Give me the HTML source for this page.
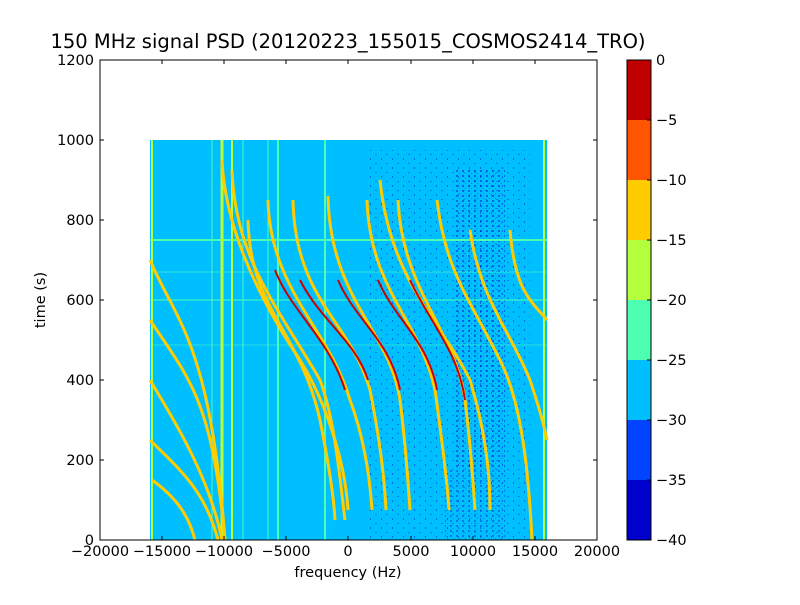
<!DOCTYPE html>
<html><head><style>
body{margin:0;background:#fff;}
svg text{font-family:"DejaVu Sans","Liberation Sans",sans-serif;}
</style></head><body>
<svg width="800" height="600" xmlns="http://www.w3.org/2000/svg">
<defs>
<pattern id="spk" width="11" height="9" patternUnits="userSpaceOnUse">
<rect x="1" y="1" width="2" height="1" fill="#0033ee"/>
<rect x="7" y="5" width="1" height="2" fill="#0000cc"/>
</pattern>
<pattern id="spk2" width="6" height="5" patternUnits="userSpaceOnUse">
<rect x="0" y="0" width="2" height="2" fill="#0000cc"/>
<rect x="3" y="3" width="1" height="1" fill="#0022ff"/>
</pattern>
</defs>
<rect width="800" height="600" fill="#fff"/>
<text x="348" y="48" font-size="19.5" text-anchor="middle">150 MHz signal PSD (20120223_155015_COSMOS2414_TRO)</text>
<rect x="150" y="140" width="397" height="400" fill="#00bfff"/>
<rect x="370" y="150" width="160" height="390" fill="url(#spk)" opacity="0.45"/>
<rect x="455" y="170" width="50" height="300" fill="url(#spk2)" opacity="0.45"/>
<rect x="445" y="470" width="60" height="70" fill="url(#spk2)" opacity="0.35"/>
<g stroke="#4dffb3" stroke-width="1">
<line x1="150" y1="240" x2="547" y2="240" stroke-width="2"/>
<line x1="150" y1="300" x2="547" y2="300"/>
<line x1="150" y1="272" x2="547" y2="272" opacity="0.6"/>
<line x1="150" y1="345" x2="547" y2="345" opacity="0.5"/>
</g>
<g stroke="#b3ff3d" fill="none" stroke-width="2">
<line x1="222" y1="140" x2="222" y2="540" stroke-width="3"/>
<line x1="232" y1="140" x2="232" y2="540"/>
<line x1="152" y1="140" x2="152" y2="540"/>
<line x1="544" y1="140" x2="544" y2="540"/>
<line x1="278" y1="140" x2="278" y2="540" stroke="#4dffb3"/>
<line x1="268" y1="140" x2="268" y2="540" stroke="#4dffb3" stroke-width="1"/>
<line x1="325" y1="140" x2="325" y2="540" stroke="#4dffb3"/>
<line x1="212" y1="140" x2="212" y2="540" stroke="#4dffb3" stroke-width="1"/>
<line x1="243" y1="140" x2="243" y2="540" stroke="#4dffb3" stroke-width="1"/>
</g>
<g fill="none" stroke="#ffcc00" stroke-width="3">
<path d="M150 260 C175 320,210 340,225 540"/>
<path d="M150 320 C190 380,212 400,225 540"/>
<path d="M150 380 C180 430,210 480,222 540"/>
<path d="M150 440 C180 470,205 490,218 540"/>
<path d="M152 480 C180 500,190 520,195 540"/>
<path d="M222 160 C225 230,260 300,300 360 C325 400,345 460,348 510"/>
<path d="M232 170 C235 260,280 310,320 380 C335 420,340 480,345 520"/>
<path d="M437 200 C445 270,470 300,500 360 C520 400,528 460,532 540"/>
<path d="M470 230 C480 300,510 330,530 380 C540 410,545 430,547 440"/>
<path d="M510 230 C515 290,530 300,547 320"/>
<path d="M380 180 C390 280,440 320,470 380 C485 430,490 470,490 510"/>
</g>
<g fill="none" stroke-width="3">
<g stroke="#ffcc00">
<path d="M268 200 C270 290,330 330,350 400 C365 440,370 480,372 510"/>
<path d="M293 200 C295 300,350 320,370 390 C378 430,384 470,386 510"/>
<path d="M328 196 C330 300,390 330,400 400 C405 440,408 480,410 510"/>
<path d="M367 200 C370 290,420 320,435 390 C442 440,447 480,449 510"/>
<path d="M398 200 C402 290,455 330,465 400 C470 440,473 480,475 510"/>
<path d="M248 220 C250 310,300 330,320 420 C330 470,334 500,335 520"/>
</g>
<g stroke="#cc0000" stroke-width="2">
<path d="M275 270 C290 310,330 340,345 390"/>
<path d="M300 280 C320 320,355 340,368 380"/>
<path d="M338 280 C355 320,390 340,400 390"/>
<path d="M378 280 C395 320,428 340,437 390"/>
<path d="M410 280 C428 320,458 350,465 400"/>
</g>
</g>
<rect x="100" y="60" width="497" height="480" fill="none" stroke="#000"/>
<g stroke="#000">
<path d="M100 540v-4M162 540v-4M224 540v-4M286 540v-4M348 540v-4M411 540v-4M473 540v-4M535 540v-4M597 540v-4"/>
<path d="M100 60v4M162 60v4M224 60v4M286 60v4M348 60v4M411 60v4M473 60v4M535 60v4M597 60v4"/>
<path d="M100 540h4M100 460h4M100 380h4M100 300h4M100 220h4M100 140h4M100 60h4"/>
<path d="M597 540h-4M597 460h-4M597 380h-4M597 300h-4M597 220h-4M597 140h-4M597 60h-4"/>
</g>
<g font-size="14.5" text-anchor="middle">
<text x="100" y="556">−20000</text><text x="162" y="556">−15000</text><text x="224" y="556">−10000</text><text x="286" y="556">−5000</text><text x="348" y="556">0</text><text x="411" y="556">5000</text><text x="473" y="556">10000</text><text x="535" y="556">15000</text><text x="597" y="556">20000</text>
</g>
<g font-size="14.5" text-anchor="end">
<text x="94" y="545">0</text><text x="94" y="465">200</text><text x="94" y="385">400</text><text x="94" y="305">600</text><text x="94" y="225">800</text><text x="94" y="145">1000</text><text x="94" y="65">1200</text>
</g>
<text x="348" y="577" font-size="14.5" text-anchor="middle">frequency (Hz)</text>
<text x="45" y="300" font-size="14.5" text-anchor="middle" transform="rotate(-90 45 300)">time (s)</text>
<rect x="627" y="60" width="24" height="60" fill="#c00000"/>
<rect x="627" y="120" width="24" height="60" fill="#ff5500"/>
<rect x="627" y="180" width="24" height="60" fill="#ffcc00"/>
<rect x="627" y="240" width="24" height="60" fill="#b3ff3d"/>
<rect x="627" y="300" width="24" height="60" fill="#4dffb3"/>
<rect x="627" y="360" width="24" height="60" fill="#00bfff"/>
<rect x="627" y="420" width="24" height="60" fill="#0044ff"/>
<rect x="627" y="480" width="24" height="60" fill="#0000cc"/>
<rect x="627" y="60" width="24" height="480" fill="none" stroke="#000"/>
<g stroke="#000"><path d="M651 60h-4M651 120h-4M651 180h-4M651 240h-4M651 300h-4M651 360h-4M651 420h-4M651 480h-4M651 540h-4"/></g>
<g font-size="14.5">
<text x="656" y="65">0</text><text x="656" y="125">−5</text><text x="656" y="185">−10</text><text x="656" y="245">−15</text><text x="656" y="305">−20</text><text x="656" y="365">−25</text><text x="656" y="425">−30</text><text x="656" y="485">−35</text><text x="656" y="545">−40</text>
</g>
</svg>
</body></html>
